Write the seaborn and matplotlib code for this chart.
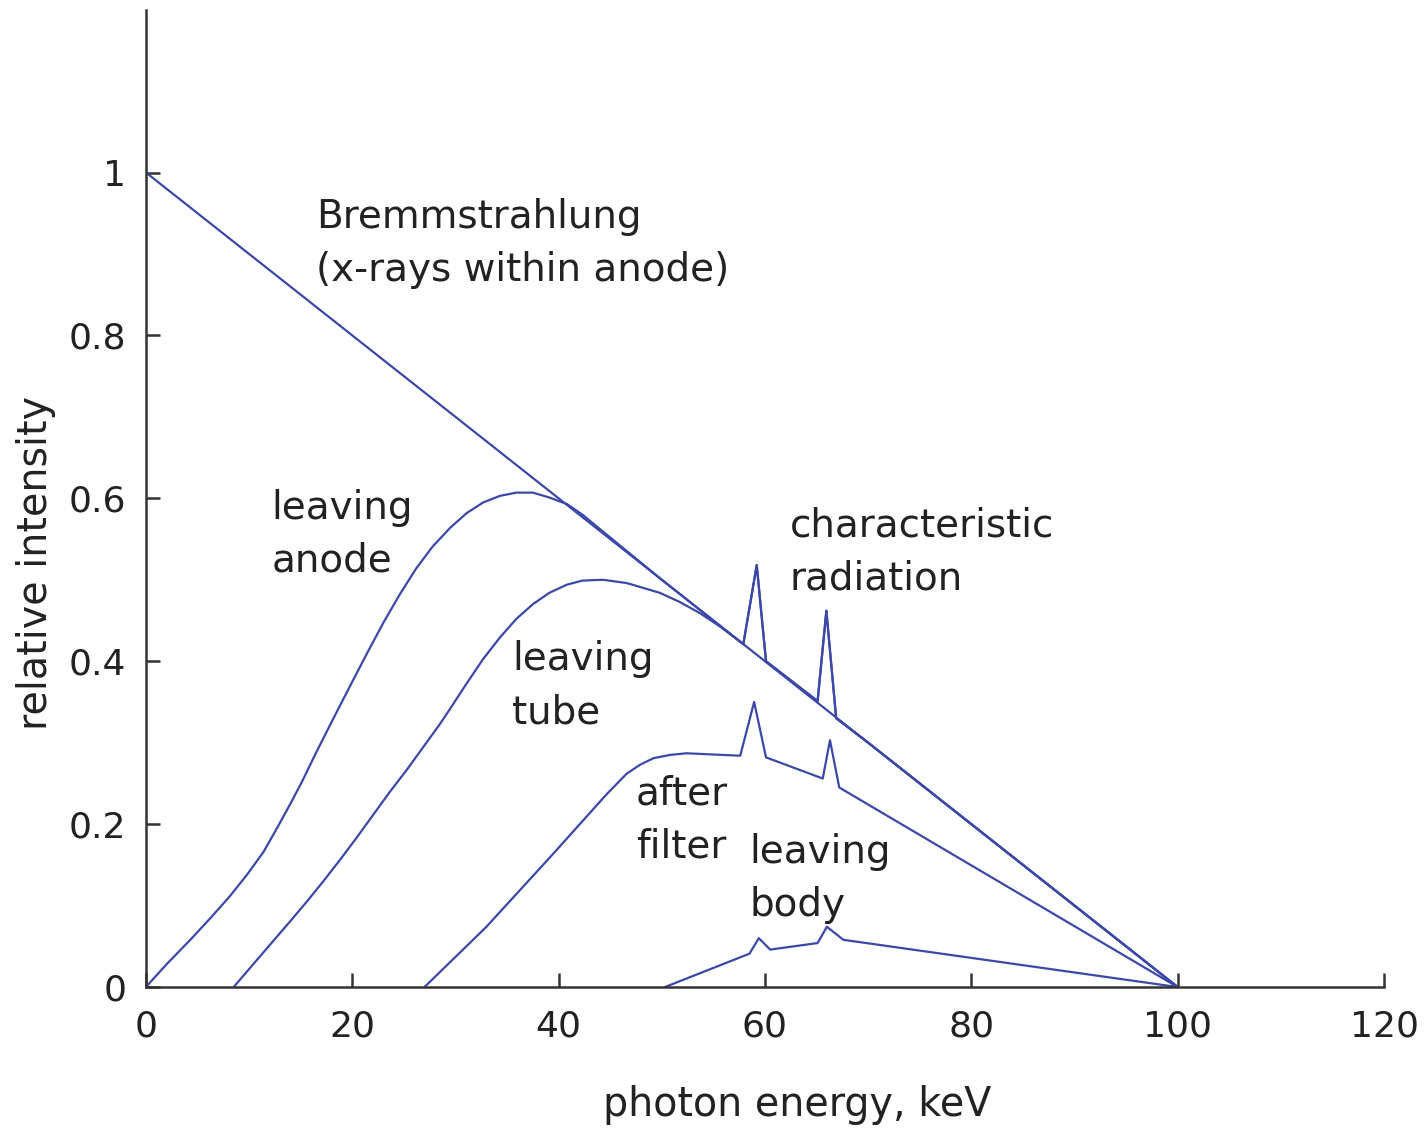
import matplotlib
matplotlib.use("Agg")
import matplotlib.pyplot as plt
import seaborn as sns
import pandas as pd

# ---- data ----
brems_x = [0, 10, 20, 30, 40, 50, 60, 70, 80, 90, 100]
brems_y = [1.0, 0.9, 0.8, 0.7, 0.6, 0.5, 0.4, 0.3, 0.2, 0.1, 0.0]

anode_x = [0, 2.0, 4.3, 6.2, 8.1, 9.8, 11.4, 12.7, 14.0, 15.2, 16.5, 18.1, 19.8, 21.4,
           23.0, 24.6, 26.2, 27.8, 29.5, 31.1, 32.7, 34.3, 35.9, 37.5, 39.1, 40.8,
           42.3, 50, 57.9, 59.2, 60.1, 65.1, 65.95, 66.9, 70, 80, 90, 100]
anode_y = [0, 0.028, 0.058, 0.084, 0.111, 0.138, 0.166, 0.195, 0.225, 0.254, 0.288,
           0.328, 0.370, 0.409, 0.447, 0.482, 0.514, 0.541, 0.564, 0.582, 0.595,
           0.603, 0.607, 0.607, 0.601, 0.593, 0.580, 0.50, 0.421, 0.518, 0.40,
           0.351, 0.462, 0.33, 0.30, 0.20, 0.10, 0]

tube_x = [8.5, 10.4, 12.3, 14.0, 15.6, 17.2, 18.8, 20.4, 22.0, 23.6, 25.3, 26.9, 28.5,
          29.5, 31.1, 32.7, 34.3, 35.9, 37.5, 39.1, 40.8, 42.3, 44.3, 46.6, 49.8,
          51.7, 53.7, 55.6, 57.9, 59.2, 60.1, 65.1, 65.95, 66.9, 70, 80, 90, 100]
tube_y = [0, 0.028, 0.056, 0.081, 0.105, 0.130, 0.156, 0.183, 0.211, 0.239, 0.267,
          0.295, 0.323, 0.342, 0.373, 0.403, 0.429, 0.452, 0.470, 0.484, 0.494,
          0.499, 0.500, 0.496, 0.484, 0.473, 0.459, 0.443, 0.421, 0.518, 0.40,
          0.351, 0.462, 0.33, 0.30, 0.20, 0.10, 0]

filter_x = [27.0, 33.0, 39.5, 44.6, 46.6, 47.9, 49.2, 50.8, 52.4, 57.6, 58.95, 60.1,
            65.6, 66.3, 67.2, 100]
filter_y = [0, 0.074, 0.164, 0.236, 0.262, 0.273, 0.281, 0.285, 0.287, 0.284, 0.350,
            0.282, 0.256, 0.303, 0.245, 0]

body_x = [50.3, 58.5, 59.4, 60.5, 65.1, 66.0, 67.6, 100]
body_y = [0, 0.041, 0.060, 0.046, 0.054, 0.074, 0.058, 0]

x_ticks = [0, 20, 40, 60, 80, 100, 120]
y_ticks = [0, 0.2, 0.4, 0.6, 0.8, 1.0]
y_ticklabels = ["0", "0.2", "0.4", "0.6", "0.8", "1"]

labels = [
    ("Bremmstrahlung\n(x-rays within anode)", 16.5, 0.913),
    ("leaving\nanode", 12.2, 0.556),
    ("characteristic\nradiation", 62.4, 0.534),
    ("leaving\ntube", 35.5, 0.370),
    ("after\nfilter", 47.5, 0.205),
    ("leaving\nbody", 58.5, 0.133),
]

# ---- plot ----
sns.set_style("ticks")
plt.rcParams["font.family"] = ["DejaVu Sans"]
LINE = "#3C48A8"
TXT = "#222222"

fig = plt.figure(figsize=(14.28, 11.30), dpi=100)
ax = fig.add_axes([0.1022, 0.1265, 0.867, 0.865])

series = [(brems_x, brems_y), (anode_x, anode_y), (tube_x, tube_y),
          (filter_x, filter_y), (body_x, body_y)]
for xs, ys in series:
    df = pd.DataFrame({"x": xs, "y": ys})
    sns.lineplot(data=df, x="x", y="y", ax=ax, color=LINE, linewidth=1.6,
                 sort=False, estimator=None)

ax.set_xlim(0, 120)
ax.set_ylim(0, 1.2)
ax.set_xticks(x_ticks)
ax.set_xticklabels([str(t) for t in x_ticks])
ax.set_yticks(y_ticks)
ax.set_yticklabels(y_ticklabels)
ax.tick_params(direction="in", length=10, width=1.8, colors="#333333",
               labelsize=26, labelcolor=TXT)
ax.tick_params(axis="x", pad=16)
ax.tick_params(axis="y", pad=14)
for s in ["top", "right"]:
    ax.spines[s].set_visible(False)
for s in ["left", "bottom"]:
    ax.spines[s].set_linewidth(1.8)
    ax.spines[s].set_color("#333333")

ax.set_xlabel("")
ax.set_ylabel("")
fig.text(797 / 1428, 1 - 1105 / 1130, "photon energy, keV", fontsize=28.5,
         color=TXT, ha="center", va="center")
fig.text(36 / 1428, 1 - 563 / 1130, "relative intensity", fontsize=28.5,
         color=TXT, ha="center", va="center", rotation=90)

for txt, x, y in labels:
    ax.text(x, y, txt, fontsize=28, color=TXT, ha="left", va="center",
            linespacing=1.5)

fig.savefig("out.png", dpi=100, facecolor="white")
